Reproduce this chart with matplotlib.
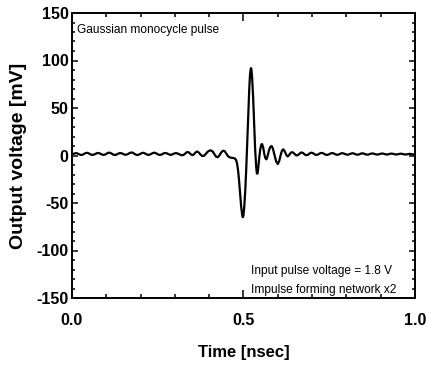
import matplotlib
matplotlib.use("Agg")
import matplotlib.pyplot as plt
from matplotlib.ticker import MultipleLocator

# ---- data ----
time_ns = [
    0.000, 0.005, 0.010, 0.015, 0.020, 0.025, 0.030, 0.035, 0.040, 0.045,
    0.050, 0.055, 0.060, 0.065, 0.070, 0.075, 0.080, 0.085, 0.090, 0.095,
    0.100, 0.105, 0.110, 0.115, 0.120, 0.125, 0.130, 0.135, 0.140, 0.145,
    0.150, 0.155, 0.160, 0.165, 0.170, 0.175, 0.180, 0.185, 0.190, 0.195,
    0.200, 0.205, 0.210, 0.215, 0.220, 0.225, 0.230, 0.235, 0.240, 0.245,
    0.250, 0.255, 0.260, 0.265, 0.270, 0.275, 0.280, 0.285, 0.290, 0.295,
    0.300, 0.305, 0.310, 0.315, 0.320, 0.325, 0.330, 0.335, 0.340, 0.345,
    0.350, 0.355, 0.360, 0.365, 0.370, 0.375, 0.380, 0.385, 0.390, 0.395,
    0.400, 0.405, 0.410, 0.415, 0.420, 0.425, 0.430, 0.435, 0.440, 0.445,
    0.450, 0.455, 0.460, 0.465, 0.470, 0.475, 0.478, 0.481, 0.484, 0.487,
    0.490, 0.493, 0.496, 0.498, 0.500, 0.502, 0.505, 0.508, 0.511, 0.514,
    0.517, 0.519, 0.521, 0.522, 0.523, 0.525, 0.528, 0.531, 0.534, 0.537,
    0.539, 0.541, 0.543, 0.546, 0.549, 0.552, 0.554, 0.557, 0.561, 0.564,
    0.567, 0.570, 0.574, 0.578, 0.582, 0.586, 0.590, 0.595, 0.600, 0.604,
    0.608, 0.612, 0.616, 0.620, 0.625, 0.629, 0.633, 0.638, 0.643, 0.648,
    0.653, 0.658, 0.663, 0.668, 0.673, 0.678, 0.683, 0.688, 0.693, 0.698,
    0.703, 0.708, 0.713, 0.718, 0.723, 0.728, 0.733, 0.738, 0.743, 0.748,
    0.753, 0.758, 0.763, 0.768, 0.773, 0.778, 0.783, 0.788, 0.793, 0.798,
    0.803, 0.808, 0.813, 0.818, 0.823, 0.828, 0.833, 0.838, 0.843, 0.848,
    0.853, 0.858, 0.863, 0.868, 0.873, 0.878, 0.883, 0.888, 0.893, 0.898,
    0.903, 0.908, 0.913, 0.918, 0.923, 0.928, 0.933, 0.938, 0.943, 0.948,
    0.953, 0.958, 0.963, 0.968, 0.973, 0.978, 0.983, 0.988, 0.993, 1.000,
]
voltage_mV = [
    1.0, 1.8, 2.5, 2.3, 1.4, 0.6, 0.7, 1.6, 2.6, 2.8,
    2.0, 1.0, 0.6, 1.1, 2.0, 2.7, 2.4, 1.4, 0.7, 0.8,
    1.7, 2.8, 3.0, 2.1, 1.0, 0.5, 1.0, 2.0, 2.6, 2.3,
    1.4, 0.8, 1.0, 1.9, 2.9, 3.2, 2.3, 1.1, 0.5, 0.9,
    1.9, 2.8, 2.7, 1.7, 0.8, 0.7, 1.5, 2.5, 3.0, 2.4,
    1.3, 0.6, 0.8, 1.8, 2.6, 2.5, 1.6, 0.8, 0.8, 1.6,
    2.4, 2.5, 1.7, 0.8, 0.2, 0.6, 2.0, 3.6, 3.4, 1.8,
    0.4, 1.0, 3.2, 4.2, 3.0, 0.8, -0.6, -0.3, 1.6, 3.8,
    5.0, 5.4, 4.2, 1.4, -1.2, -1.8, 0.2, 3.2, 5.0, 4.6,
    2.0, -0.8, -2.0, -2.4, -2.6, -3.2, -4.5, -8.0, -15.0, -26.0,
    -40.0, -53.0, -62.0, -65.0, -63.0, -55.0, -38.0, -14.0, 14.0, 45.0,
    72.0, 85.0, 91.0, 92.0, 91.0, 83.0, 62.0, 33.0, 6.0, -12.0,
    -19.0, -19.0, -13.0, -2.0, 7.0, 11.5, 12.0, 9.0, 1.0, -3.0,
    -4.0, -1.0, 5.0, 9.0, 10.0, 7.0, 1.0, -6.0, -9.0, -6.0,
    0.0, 5.0, 6.5, 4.5, 0.5, -1.0, 0.5, 3.0, 3.5, 2.0,
    0.2, 0.2, 1.8, 3.2, 2.8, 1.2, 0.3, 0.8, 2.2, 3.0,
    2.4, 1.0, 0.6, 1.2, 2.3, 2.8, 2.2, 1.1, 0.6, 1.0,
    2.0, 2.6, 2.2, 1.2, 0.7, 1.1, 2.0, 2.5, 2.0, 1.2,
    0.8, 1.2, 2.0, 2.4, 1.9, 1.1, 0.8, 1.3, 2.1, 2.3,
    1.7, 1.0, 0.9, 1.5, 2.1, 2.1, 1.5, 1.0, 1.1, 1.7,
    2.1, 1.9, 1.3, 1.0, 1.3, 1.9, 2.0, 1.6, 1.1, 1.1,
    1.6, 1.9, 1.7, 1.2, 1.0, 1.3, 1.7, 1.6, 1.2, 1.0,
]
x_ticks = [0.0, 0.5, 1.0]
x_tick_labels = ["0.0", "0.5", "1.0"]
y_ticks = [-150, -100, -50, 0, 50, 100, 150]
y_tick_labels = ["-150", "-100", "-50", "0", "50", "100", "150"]
title_note = "Gaussian monocycle pulse"
notes = ["Input pulse voltage = 1.8 V", "Impulse forming network x2"]

plt.rcParams['font.family'] = ['Liberation Sans', 'DejaVu Sans']

fig = plt.figure(figsize=(4.27, 3.69), dpi=100)
ax = fig.add_axes([72/427, 1-298/369, (415-72)/427, (298-13)/369])

ax.plot(time_ns, voltage_mV, color='black', lw=1.6, solid_joinstyle='round')

ax.set_xlim(0, 1.0)
ax.set_ylim(-150, 150)
ax.set_xticks(x_ticks)
ax.set_xticklabels(x_tick_labels, fontweight='bold', fontsize=11.5)
ax.set_yticks(y_ticks)
ax.set_yticklabels(y_tick_labels, fontweight='bold', fontsize=11.5)
ax.xaxis.set_minor_locator(MultipleLocator(0.1))
ax.yaxis.set_minor_locator(MultipleLocator(10))

for s in ax.spines.values():
    s.set_linewidth(1.4)

ax.tick_params(axis='x', which='major', direction='in', top=True, length=5.5, width=1.1, pad=11)
ax.tick_params(axis='x', which='minor', direction='in', top=True, length=2.6, width=1.1)
ax.tick_params(axis='y', which='major', direction='in', right=True, length=4.5, width=1.1, pad=2.5)
ax.tick_params(axis='y', which='minor', direction='in', right=True, length=2.4, width=1.1)

ax.set_xlabel("Time [nsec]", fontweight='bold', fontsize=12, labelpad=12)
ax.set_ylabel("Output voltage [mV]", fontweight='bold', fontsize=14, labelpad=7)

ax.text(0.015, 0.93, title_note, transform=ax.transAxes, fontsize=8.6,
        ha='left', va='baseline')
ax.text(0.521, 0.084, notes[0], transform=ax.transAxes, fontsize=8.6,
        ha='left', va='baseline')
ax.text(0.521, 0.017, notes[1], transform=ax.transAxes, fontsize=8.6,
        ha='left', va='baseline')

fig.savefig("out.png", dpi=100)
